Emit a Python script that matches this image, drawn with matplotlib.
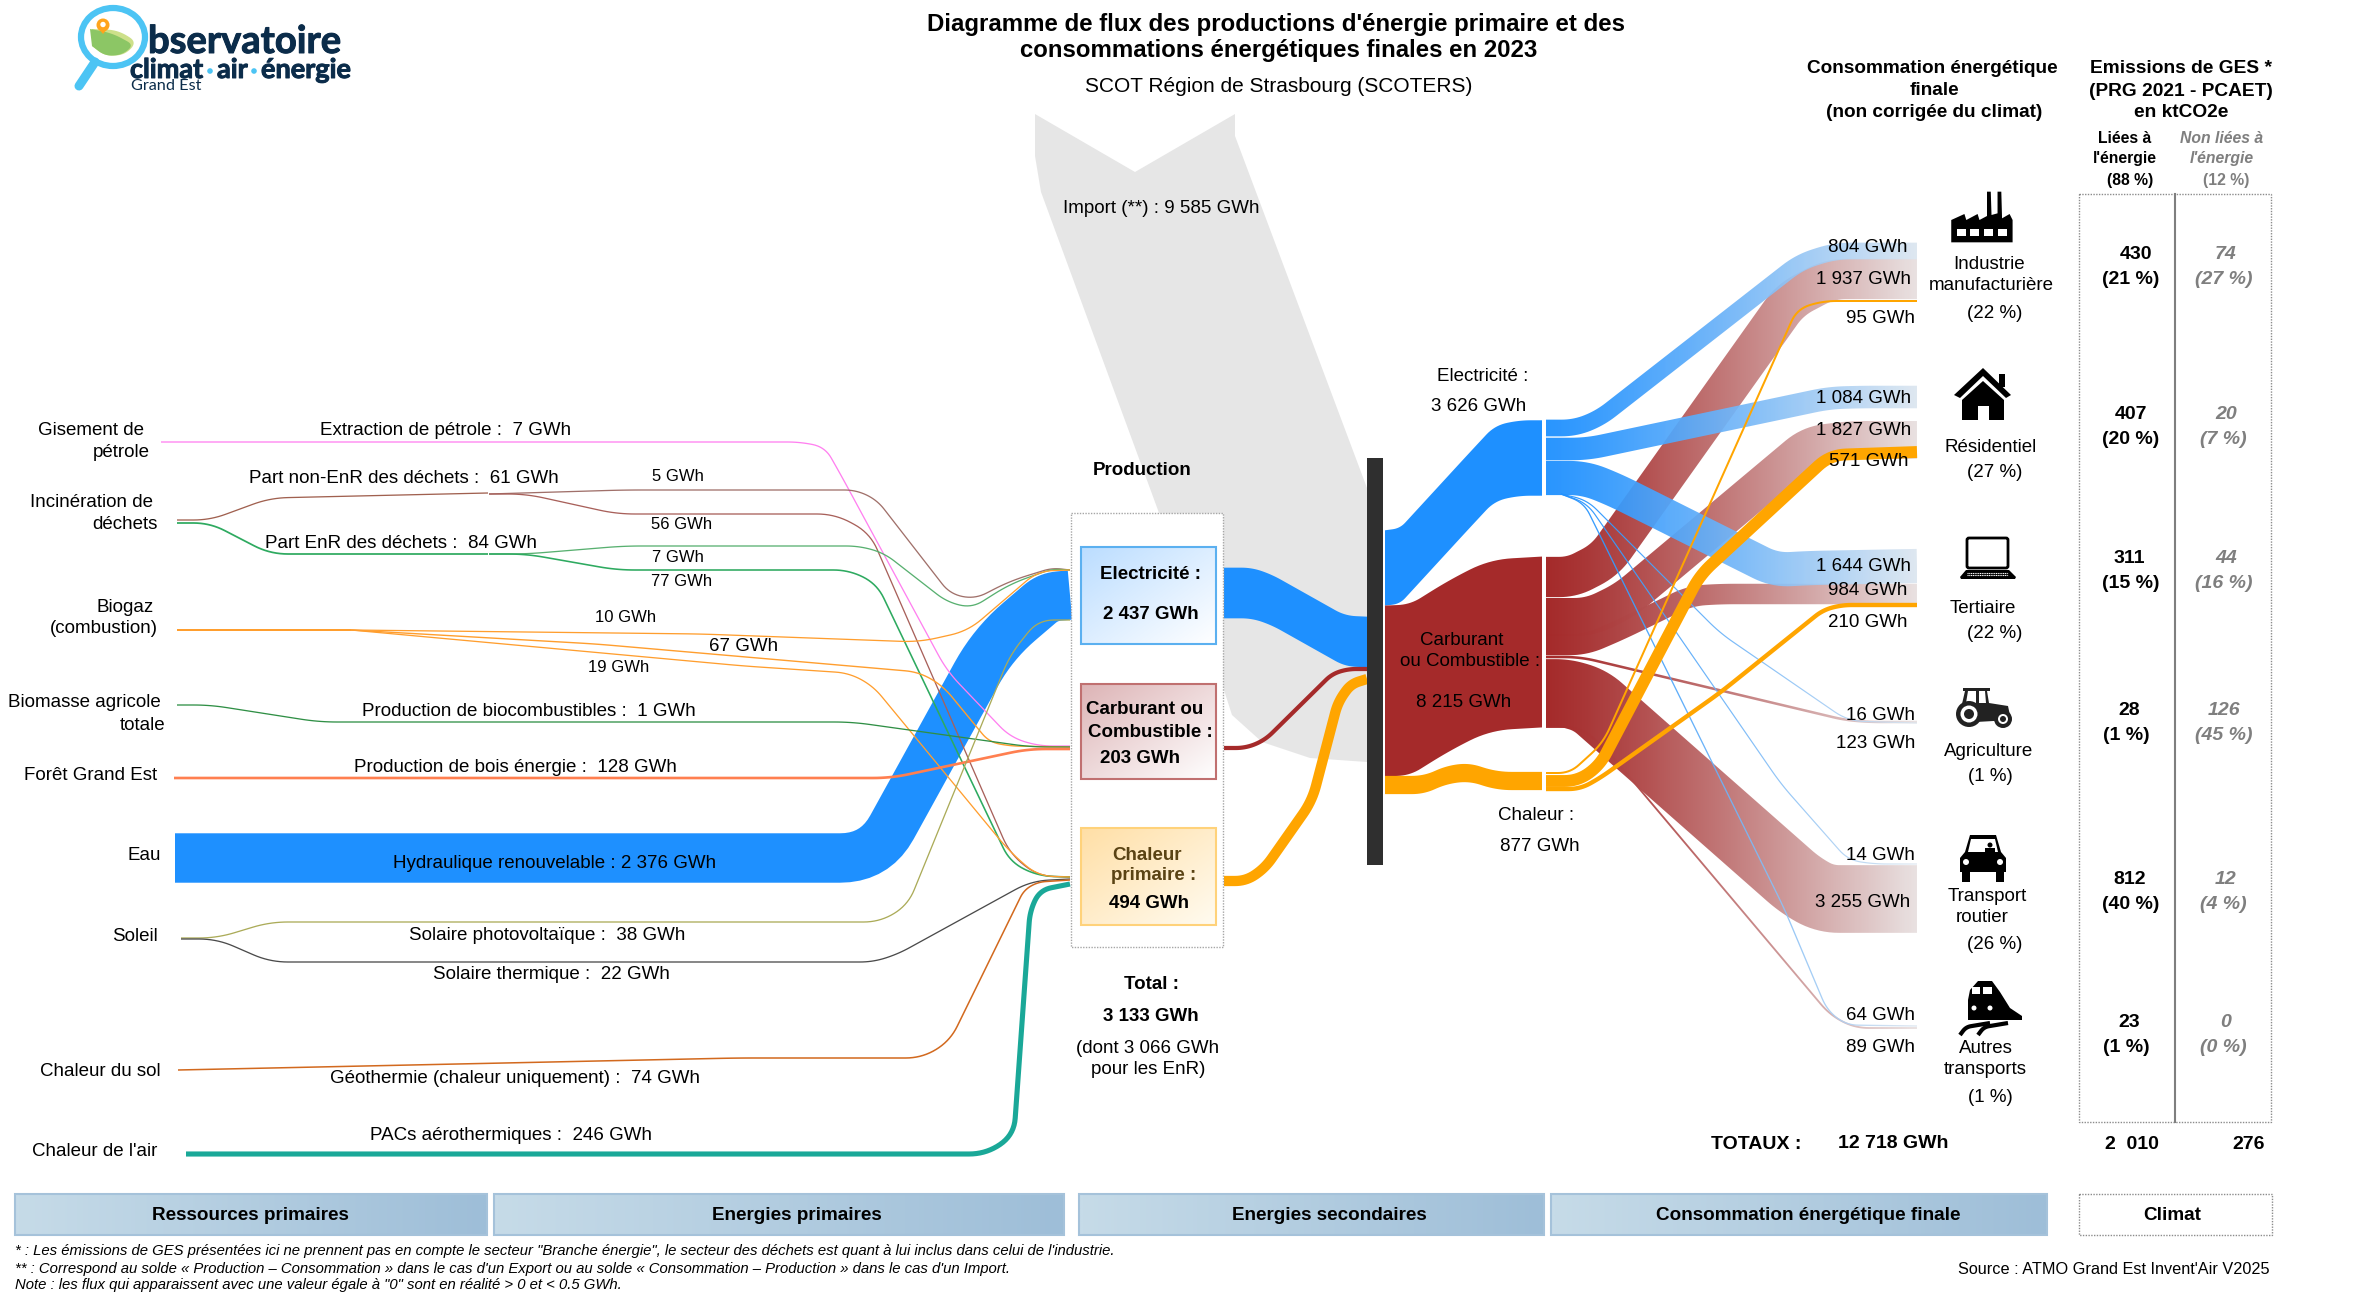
import numpy as np
import matplotlib
matplotlib.use("Agg")
import matplotlib.pyplot as plt
from matplotlib.path import Path
from matplotlib.patches import Polygon, Rectangle, Circle, Ellipse, FancyBboxPatch
from matplotlib.colors import to_rgba
import matplotlib.patheffects as pe

plt.rcParams['font.family'] = ['Liberation Sans', 'DejaVu Sans']

# ---- values (GWh, ktCO2e) ----
petrole = 7
dechets_non_enr = 61
dechets_non_enr_split = [5, 56]
dechets_enr = 84
dechets_enr_split = [7, 77]
biogaz_split = [10, 67, 19]
biocombustibles = 1
bois = 128
hydraulique = 2376
solaire_pv = 38
solaire_th = 22
geothermie = 74
pac = 246
production = [2437, 203, 494]
production_total = 3133
production_enr = 3066
import_solde = 9585
vecteurs = [3626, 8215, 877]
conso_elec = [804, 1084, 1644, 16, 14, 64]
conso_carb = [1937, 1827, 984, 123, 3255, 89]
conso_chal = [95, 571, 210]
conso_total = 12718
conso_pct = [22, 27, 22, 1, 26, 1]
ges_energie = [430, 407, 311, 28, 812, 23]
ges_energie_pct = [21, 20, 15, 1, 40, 1]
ges_autre = [74, 20, 44, 126, 12, 0]
ges_autre_pct = [27, 7, 16, 45, 4, 0]
ges_totaux = [2010, 276]
ges_part = [88, 12]

# ---- layout: pixels of the picture, flow thickness is value * SCALE ----
SCALE = 0.0208
FADE_X = (1546, 1917)
BLUE, RED, ORANGE = "#1E90FF", "#A52A2A", "#FFA500"

fig = plt.figure(figsize=(23.7, 12.99), dpi=100)
ax = fig.add_axes([0, 0, 1, 1])
ax.set_xlim(0, 2370)
ax.set_ylim(1299, 0)
ax.axis("off")


def gwh(v):
    return f"{v:,}".replace(",", " ") + " GWh"


def smooth(route, r=16, n=10):
    route = [np.array(p, float) for p in route]
    out = [route[0]]
    for a, b, c in zip(route, route[1:], route[2:]):
        d1, d2 = np.linalg.norm(b - a), np.linalg.norm(c - b)
        rr = min(r, d1 / 2, d2 / 2)
        p0 = b - (b - a) / d1 * rr
        p2 = b + (c - b) / d2 * rr
        for t in np.linspace(0, 1, n):
            out.append((1 - t) ** 2 * p0 + 2 * t * (1 - t) * b + t ** 2 * p2)
    out.append(route[-1])
    out = np.array(out)
    keep = np.r_[True, np.linalg.norm(np.diff(out, axis=0), axis=1) > 1e-6]
    return out[keep]


def ribbon_xy(route, w, vertical=False, r=16):
    pts = smooth(route, r)
    if vertical:
        off = np.column_stack([np.zeros(len(pts)), np.full(len(pts), w / 2)])
    else:
        tan = np.gradient(pts, axis=0)
        tan = tan / np.linalg.norm(tan, axis=1, keepdims=True)
        off = np.column_stack([-tan[:, 1], tan[:, 0]]) * w / 2
    return np.vstack([pts + off, (pts - off)[::-1]])


def flow(route, value, color, z=3, vertical=False, r=16, minw=1.0):
    xy = ribbon_xy(route, max(value * SCALE, minw), vertical, r)
    ax.add_patch(Polygon(xy, closed=True, fc=color, ec="none", zorder=z))


def faded(route, value, color, end, z=3, r=16, minw=1.2):
    # final flows fade from the vector colour to a pale end colour
    xy = ribbon_xy(route, max(value * SCALE, minw), False, r)
    t = np.linspace(0, 1, 256) ** 1.2
    c0, c1 = np.array(to_rgba(color)), np.array(to_rgba(end))
    grad = (c0[None, :] * (1 - t[:, None]) + c1[None, :] * t[:, None])[None, :, :]
    im = ax.imshow(grad, extent=(FADE_X[0], FADE_X[1], 1299, 0), aspect="auto", zorder=z,
                   interpolation="bilinear")
    im.set_clip_path(Path(np.vstack([xy, xy[0]])), transform=ax.transData)


def line(route, value, color, z=2, r=18):
    pts = smooth(route, r)
    ax.plot(pts[:, 0], pts[:, 1], color=color, lw=max(value * SCALE, 1.3) * 0.72, zorder=z,
            solid_capstyle="butt", solid_joinstyle="round")


def grad_box(x0, y0, x1, y1, c0, c1, edge, z=4, lw=1.5, diag=True):
    u, v = np.meshgrid(np.linspace(0, 1, 64), np.linspace(0, 1, 64))
    t = (u + v) / 2 if diag else u
    a, b = np.array(to_rgba(c0)), np.array(to_rgba(c1))
    img = a[None, None, :] * (1 - t[..., None]) + b[None, None, :] * t[..., None]
    ax.imshow(img, extent=(x0, x1, y1, y0), aspect="auto", zorder=z, interpolation="bilinear")
    ax.add_patch(Rectangle((x0, y0), x1 - x0, y1 - y0, fc="none", ec=edge, lw=lw, zorder=z + 0.1))


def label(x, y, s, size=13.5, color="black", weight="normal", style="normal", ha="center", z=8):
    ax.text(x, y + 1.5, s, fontsize=size, color=color, fontweight=weight, fontstyle=style,
            ha=ha, va="center", zorder=z)


# ---- import wedge ----
ax.add_patch(Polygon([(1035, 114), (1135, 172), (1235, 114), (1235, 136), (1367, 488), (1367, 762),
                      (1310, 758), (1262, 742), (1232, 715), (1223, 687), (1041, 192), (1035, 156)],
                     closed=True, fc="#E6E6E6", ec="none", zorder=1))

# ---- left side: resources to primary energies ----
line([(161, 442), (800, 442), (825, 447), (842, 477), (947, 671), (1010, 737), (1038, 746), (1070, 746)], petrole, "#FF80F0")
line([(177, 520), (210, 520), (270, 498), (488, 493)], dechets_non_enr, "#A0604F")
line([(489, 494), (624, 490), (856, 490), (877, 500), (950, 594), (975, 599), (1010, 581), (1052, 568), (1070, 570)],
     dechets_non_enr_split[0], "#A0706A")
line([(489, 494), (526, 494), (617, 514), (835, 514), (870, 533), (1010, 854), (1038, 876), (1070, 877)],
     dechets_non_enr_split[1], "#A8605A")
line([(177, 523), (210, 523), (270, 554), (488, 554)], dechets_enr, "#2EAA60")
line([(489, 554), (526, 554), (624, 546), (859, 546), (884, 553), (947, 602), (972, 608), (1010, 584), (1052, 569), (1070, 570)],
     dechets_enr_split[0], "#58B070")
line([(489, 554), (526, 554), (617, 570), (849, 570), (877, 584), (1010, 862), (1038, 876), (1070, 877)],
     dechets_enr_split[1], "#2EAA60")
line([(177, 630), (351, 630)], sum(biogaz_split), "#FF9E2E")
line([(351, 630), (701, 634), (919, 642), (968, 631), (1038, 571), (1070, 570)], biogaz_split[0], "#FF9E2E")
line([(351, 630), (596, 644), (919, 672), (943, 686), (989, 742), (1010, 746), (1070, 747)], biogaz_split[1], "#FF9E2E")
line([(351, 630), (744, 666), (849, 673), (873, 686), (1010, 852), (1038, 876), (1070, 877)], biogaz_split[2], "#FF9E2E")
line([(177, 705), (210, 705), (319, 722), (852, 722), (1031, 747), (1070, 747)], biocombustibles, "#2F8F45")
line([(174, 778), (891, 778), (1028, 749), (1070, 749)], bois, "#FF7F50")
line([(181, 938), (217, 938), (270, 922), (880, 922), (908, 905), (1010, 655), (1038, 620), (1070, 620)], solaire_pv, "#ABAB58")
line([(181, 939), (217, 939), (270, 962), (873, 962), (898, 954), (1031, 881), (1070, 879)], solaire_th, "#4A4A4A")
line([(178, 1070), (737, 1058), (922, 1058), (950, 1041), (1024, 890), (1038, 882), (1070, 880)], geothermie, "#D2691E")
flow([(175, 858), (875, 858), (993, 644), (1048, 597), (1070, 595)], hydraulique, BLUE, z=1.5, r=35)
flow([(186, 1154), (986, 1154), (1014, 1135), (1030, 911), (1040, 890), (1070, 884)], pac, "#1AA898", z=2.5, r=20)

# ---- production column ----
ax.add_patch(Rectangle((1071, 513), 152, 434, fc="white", ec="#A6A6A6", lw=1, ls=(0, (1, 1)), zorder=3.5))
grad_box(1081, 547, 1216, 644, "#BBDDFF", "#FFFFFF", "#5BB0F0")
grad_box(1081, 684, 1216, 779, "#DDB4B6", "#FFFFFF", "#C07070")
grad_box(1081, 828, 1216, 925, "#FFDFA6", "#FFFBF0", "#FFD27A")

flow([(1224, 593), (1252, 593), (1272, 600), (1345, 641), (1367, 642)], production[0], BLUE, vertical=True, r=20)
flow([(1224, 748), (1246, 748), (1265, 740), (1332, 674), (1348, 669), (1367, 669)], production[1], RED)
flow([(1224, 881), (1246, 881), (1265, 868), (1312, 801), (1338, 702), (1351, 684), (1367, 679)], production[2], ORANGE)

# ---- central vectors ----
flow([(1385, 568), (1400, 566), (1468, 492), (1495, 463), (1520, 458), (1542, 458)], vecteurs[0], BLUE, vertical=True)
flow([(1385, 691), (1410, 690), (1450, 665), (1490, 645), (1542, 642)], vecteurs[1], RED, vertical=True, r=25)
flow([(1385, 785), (1424, 785), (1446, 775), (1469, 772), (1497, 781), (1542, 781)], vecteurs[2], ORANGE, vertical=True)
ax.add_patch(Rectangle((1367, 458), 16, 407, fc="#2F2F2F", ec="none", zorder=4))

# ---- final flows, red first, blue above, orange on top ----
RED_END = (0.91, 0.88, 0.88, 0.95)
BLUE_END = (0.86, 0.90, 0.94, 0.90)
BLUE_A = (0.118, 0.565, 1.0, 0.95)
faded([(1546, 577), (1572, 577), (1605, 560), (1790, 300), (1830, 279), (1917, 279)], conso_carb[0], RED, RED_END, z=2.0)
faded([(1546, 617), (1590, 617), (1625, 600), (1810, 445), (1850, 440), (1917, 440)], conso_carb[1], RED, RED_END, z=2.0)
faded([(1546, 645), (1585, 645), (1620, 630), (1690, 596), (1720, 594), (1917, 594)], conso_carb[2], RED, RED_END, z=2.0)
faded([(1546, 657), (1580, 657), (1845, 720), (1870, 722), (1917, 722)], conso_carb[3], RED, RED_END, z=2.0)
faded([(1546, 693), (1565, 693), (1590, 700), (1800, 885), (1825, 899), (1917, 899)], conso_carb[4], RED, RED_END, z=2.0, r=30)
faded([(1546, 727), (1580, 727), (1605, 748), (1830, 1015), (1855, 1028), (1917, 1028)], conso_carb[5], RED, RED_END, z=2.0)
faded([(1546, 428), (1575, 428), (1600, 418), (1800, 262), (1835, 251), (1917, 251)], conso_elec[0], BLUE_A, BLUE_END, z=2.2)
faded([(1546, 449), (1587, 449), (1829, 398), (1860, 397), (1917, 397)], conso_elec[1], BLUE_A, BLUE_END, z=2.2)
faded([(1546, 478), (1585, 478), (1615, 490), (1775, 570), (1810, 568), (1917, 566)], conso_elec[2], BLUE_A, BLUE_END, z=2.2)
faded([(1561, 494), (1587, 500), (1720, 633), (1848, 721), (1917, 723)], conso_elec[3], BLUE_A, BLUE_END, z=2.2)
faded([(1561, 494), (1587, 503), (1781, 784), (1848, 860), (1874, 864), (1917, 864)], conso_elec[4], BLUE_A, BLUE_END, z=2.2)
faded([(1561, 494), (1584, 503), (1784, 908), (1827, 1010), (1846, 1025), (1917, 1026)], conso_elec[5], BLUE_A, BLUE_END, z=2.2)
flow([(1546, 773), (1570, 773), (1603, 743), (1797, 309), (1823, 301), (1917, 301)], conso_chal[0], ORANGE, z=2.4, minw=2)
flow([(1546, 781), (1578, 781), (1600, 765), (1700, 575), (1830, 455), (1917, 452)], conso_chal[1], ORANGE, z=2.4)
flow([(1546, 789), (1580, 789), (1600, 778), (1721, 692), (1823, 610), (1842, 605), (1917, 605)], conso_chal[2], ORANGE, z=2.4)

# ---- climate table ----
ax.add_patch(Rectangle((2079, 194), 192, 928, fc="none", ec="#8C8C8C", lw=1, ls=(0, (1, 1)), zorder=3))
ax.plot([2175, 2175], [194, 1122], color="#7F7F7F", lw=1.5, zorder=3)

# ---- bottom bands ----
for x0, x1, xt, txt in [(15, 487, 250, "Ressources primaires"), (494, 1064, 797, "Energies primaires"),
                        (1079, 1544, 1329, "Energies secondaires"), (1551, 2047, 1808, "Consommation énergétique finale")]:
    grad_box(x0, 1194, x1, 1235, "#C6DBE8", "#9EBED8", "#A5C2DA", diag=False)
    label(xt, 1214, txt, size=13.6, weight="bold")
ax.add_patch(Rectangle((2079, 1194), 193, 41, fc="none", ec="#8C8C8C", lw=1, ls=(0, (1, 1)), zorder=3))
label(2172, 1214, "Climat", size=13.6, weight="bold")

# ---- titles ----
label(1276, 23, "Diagramme de flux des productions d'énergie primaire et des", size=17.3, weight="bold")
label(1279, 49, "consommations énergétiques finales en 2023", size=17.3, weight="bold")
label(1279, 85, "SCOT Région de Strasbourg (SCOTERS)", size=15)
label(1932, 67, "Consommation énergétique", weight="bold", size=13.7)
label(1934, 89, "finale", weight="bold", size=13.7)
label(1934, 111, "(non corrigée du climat)", weight="bold", size=13.7)
label(2181, 67, "Emissions de GES *", weight="bold", size=13.8)
label(2181, 90, "(PRG 2021 - PCAET)", weight="bold", size=13.8)
label(2181, 111, "en ktCO2e", weight="bold", size=13.8)
label(2125, 137, "Liées à", weight="bold", size=11.3)
label(2125, 157, "l'énergie", weight="bold", size=11.3)
label(2130, 179, f"({ges_part[0]} %)", weight="bold", size=11.3)
label(2222, 137, "Non liées à", weight="bold", style="italic", size=11.3, color="#7F7F7F")
label(2222, 157, "l'énergie", weight="bold", style="italic", size=11.3, color="#7F7F7F")
label(2226, 179, f"({ges_part[1]} %)", weight="bold", size=11.3, color="#7F7F7F")

# ---- left labels ----
for x, y, s in [(91, 429, "Gisement de"), (121, 451, "pétrole"), (91, 501, "Incinération de"), (125, 523, "déchets"),
                (125, 606, "Biogaz"), (104, 627, "(combustion)"), (84, 701, "Biomasse agricole"), (143, 724, "totale"),
                (91, 774, "Forêt Grand Est"), (144, 854, "Eau"), (135, 935, "Soleil"), (100, 1070, "Chaleur du sol"),
                (95, 1150, "Chaleur de l'air")]:
    label(x, y, s)

label(446, 429, f"Extraction de pétrole :  {petrole} GWh")
label(404, 477, f"Part non-EnR des déchets :  {dechets_non_enr} GWh")
label(678, 475, gwh(dechets_non_enr_split[0]), size=12)
label(682, 523, gwh(dechets_non_enr_split[1]), size=12)
label(401, 542, f"Part EnR des déchets :  {dechets_enr} GWh")
label(678, 556, gwh(dechets_enr_split[0]), size=12)
label(682, 580, gwh(dechets_enr_split[1]), size=12)
label(626, 616, gwh(biogaz_split[0]), size=12)
label(744, 645, gwh(biogaz_split[1]), size=13.5)
label(619, 666, gwh(biogaz_split[2]), size=12)
label(529, 710, f"Production de biocombustibles :  {biocombustibles} GWh")
label(515, 766, f"Production de bois énergie :  {bois} GWh")
label(555, 862, f"Hydraulique renouvelable : {gwh(hydraulique)}")
label(547, 934, f"Solaire photovoltaïque :  {solaire_pv} GWh")
label(551, 973, f"Solaire thermique :  {solaire_th} GWh")
label(515, 1077, f"Géothermie (chaleur uniquement) :  {geothermie} GWh")
label(511, 1134, f"PACs aérothermiques :  {pac} GWh")

# ---- production labels ----
label(1142, 469, "Production", weight="bold")
label(1151, 573, "Electricité :", weight="bold")
label(1151, 613, gwh(production[0]), weight="bold")
label(1145, 708, "Carburant ou", weight="bold")
label(1150, 731, "Combustible :", weight="bold")
label(1140, 757, gwh(production[1]), weight="bold")
label(1147, 854, "Chaleur", weight="bold", color="#5A4314")
label(1154, 874, "primaire :", weight="bold", color="#5A4314")
label(1149, 902, gwh(production[2]), weight="bold")
label(1151, 983, "Total :", weight="bold")
label(1151, 1015, gwh(production_total), weight="bold")
label(1148, 1047, f"(dont {gwh(production_enr)}")
label(1148, 1068, "pour les EnR)")
label(1161, 207, f"Import (**) : {gwh(import_solde)}")

# ---- vector labels ----
label(1483, 375, "Electricité :")
label(1479, 405, gwh(vecteurs[0]))
label(1462, 639, "Carburant")
label(1470, 660, "ou Combustible :")
label(1464, 701, gwh(vecteurs[1]))
label(1536, 814, "Chaleur :")
label(1540, 845, gwh(vecteurs[2]))

# ---- final flow labels ----
elec_xy = [(1868, 246), (1864, 397), (1863, 565), (1880, 714), (1880, 854), (1880, 1014)]
carb_xy = [(1864, 278), (1864, 429), (1868, 589), (1876, 742), (1863, 901), (1880, 1046)]
chal_xy = [(1880, 317), (1869, 460), (1868, 621)]
for (x, y), v in zip(elec_xy, conso_elec):
    label(x, y, gwh(v))
for (x, y), v in zip(carb_xy, conso_carb):
    label(x, y, gwh(v))
for (x, y), v in zip(chal_xy, conso_chal):
    label(x, y, gwh(v))

# ---- sector labels ----
sector_lines = [[(1989, 263, "Industrie"), (1991, 284, "manufacturière")], [(1991, 446, "Résidentiel")],
                [(1983, 607, "Tertiaire")], [(1989, 750, "Agriculture")],
                [(1987, 895, "Transport"), (1982, 916, "routier")], [(1986, 1047, "Autres"), (1985, 1068, "transports")]]
pct_xy = [(1995, 312), (1995, 471), (1995, 632), (1990, 775), (1995, 943), (1990, 1096)]
for rows, (x, y), p in zip(sector_lines, pct_xy, conso_pct):
    for rx, ry, s in rows:
        label(rx, ry, s)
    label(x, y, f"({p} %)")

# ---- emissions ----
ges_y = [(253, 278), (413, 438), (557, 582), (709, 734), (878, 903), (1021, 1046)]
ges_left_x = [(2136, 2131), (2131, 2131), (2129, 2131), (2129, 2126), (2130, 2131), (2129, 2126)]
ges_right_x = [(2226, 2224), (2226, 2223), (2226, 2224), (2224, 2224), (2226, 2223), (2226, 2223)]
for i in range(6):
    y0, y1 = ges_y[i]
    label(ges_left_x[i][0], y0, str(ges_energie[i]), weight="bold", size=14)
    label(ges_left_x[i][1], y1, f"({ges_energie_pct[i]} %)", weight="bold", size=14)
    label(ges_right_x[i][0], y0, str(ges_autre[i]), weight="bold", style="italic", size=14, color="#7F7F7F")
    label(ges_right_x[i][1], y1, f"({ges_autre_pct[i]} %)", weight="bold", style="italic", size=14, color="#7F7F7F")
label(1756, 1143, "TOTAUX :", weight="bold", size=14)
label(1893, 1142, gwh(conso_total), weight="bold", size=14)
label(2132, 1143, f"{ges_totaux[0]:,}".replace(",", "  "), weight="bold", size=14)
label(2249, 1143, str(ges_totaux[1]), weight="bold", size=14)

# ---- notes ----
notes = ['* : Les émissions de GES présentées ici ne prennent pas en compte le secteur "Branche énergie", le secteur des déchets est quant à lui inclus dans celui de l\'industrie.',
         "** : Correspond au solde « Production – Consommation » dans le cas d'un Export ou au solde « Consommation – Production » dans le cas d'un Import.",
         'Note : les flux qui apparaissent avec une valeur égale à "0" sont en réalité > 0 et < 0.5 GWh.']
for y, s in zip([1250, 1267, 1284], notes):
    label(15, y, s, size=10.75, style="italic", ha="left")
label(1958, 1268, "Source : ATMO Grand Est Invent'Air V2025", size=11.7, ha="left")


# ---- icons ----
def factory():
    zx = [455, 490, 495, 525, 530, 550, 550, 560, 562, 578, 578, 588, 590, 610, 618, 618, 455]
    zy = [540, 522, 540, 522, 540, 528, 455, 455, 525, 520, 455, 455, 535, 522, 540, 607, 607]
    pts = [(1780 + a / 2.657, 40 + b / 3) for a, b in zip(zx, zy)]
    ax.add_patch(Polygon(pts, closed=True, fc="black", ec="none", zorder=6))
    for x in (1957, 1970, 1984, 1998):
        ax.add_patch(Rectangle((x, 229), 9, 7, fc="white", ec="none", zorder=6.1))


def house():
    ax.add_patch(Polygon([(1983, 368), (2011, 395), (2006, 398), (1983, 376), (1960, 398), (1954, 395)], closed=True, fc="black", zorder=6))
    ax.add_patch(Polygon([(1983, 381), (2004, 400), (2004, 420), (1962, 420), (1962, 400)], closed=True, fc="black", zorder=6))
    ax.add_patch(Rectangle((1999, 374), 6, 13, fc="black", zorder=6))
    ax.add_patch(Rectangle((1978, 406), 11, 14, fc="white", zorder=6.1))


def laptop():
    ax.add_patch(FancyBboxPatch((1967, 538), 41, 30, boxstyle="round,pad=0,rounding_size=2", fc="white", ec="black", lw=2, zorder=6))
    ax.add_patch(Polygon([(1966, 570), (2009, 570), (2016, 577), (2015, 579), (1961, 579), (1960, 577)], closed=True, fc="black", zorder=6))
    for y in (572.5, 575):
        ax.plot([1967, 2008], [y, y], color="white", lw=0.8, ls=(0, (1, 0.6)), zorder=6.1)


def tractor():
    ax.add_patch(Polygon([(1963, 688), (1990, 688), (1990, 691), (1987, 691), (1989, 703), (2008, 706), (2011, 720), (1976, 722), (1962, 704), (1965, 691), (1963, 691)],
                         closed=True, fc="#222222", zorder=6))
    ax.add_patch(Polygon([(1968, 691), (1976, 691), (1976, 703), (1966, 703)], closed=True, fc="white", zorder=6.1))
    ax.add_patch(Polygon([(1979, 691), (1985, 691), (1986, 703), (1979, 703)], closed=True, fc="white", zorder=6.1))
    for x, y, r0, r1, r2 in [(1969, 714, 13, 8.5, 5), (2003, 719, 9, 5, 3)]:
        ax.add_patch(Circle((x, y), r0, fc="#222222", zorder=6.2))
        ax.add_patch(Circle((x, y), r1, fc="white", zorder=6.3))
        ax.add_patch(Circle((x, y), r2, fc="#222222", zorder=6.4))


def car():
    ax.add_patch(Polygon([(1970, 835), (1996, 835), (2001, 852), (2006, 858), (2006, 872), (1960, 872), (1960, 858), (1965, 852)], closed=True, fc="black", zorder=6))
    ax.add_patch(Polygon([(1971, 839), (1995, 839), (1998, 852), (1968, 852)], closed=True, fc="white", zorder=6.1))
    ax.add_patch(Circle((1990, 845), 2.5, fc="black", zorder=6.2))
    ax.add_patch(Rectangle((1985, 848), 10, 4, fc="black", zorder=6.2))
    ax.add_patch(Rectangle((1962, 870), 8, 12, fc="black", zorder=6))
    ax.add_patch(Rectangle((1996, 870), 8, 12, fc="black", zorder=6))
    for x in (1966, 2000):
        ax.add_patch(Circle((x, 862), 3, fc="white", zorder=6.1))


def train():
    ax.add_patch(Polygon([(1970, 990), (1978, 981), (1992, 981), (2000, 992), (2010, 1008), (2022, 1016), (2022, 1020), (1968, 1020), (1968, 1000)], closed=True, fc="black", zorder=6))
    ax.add_patch(Rectangle((1972, 987), 8, 7, fc="white", zorder=6.1))
    ax.add_patch(Rectangle((1983, 987), 9, 7, fc="white", zorder=6.1))
    for x in (1974, 1990):
        ax.add_patch(Circle((x, 1008), 2.5, fc="white", zorder=6.1))
    for x0, x1 in [(1960, 1990), (1978, 2008)]:
        s = smooth([(x0, 1035), (x0 + 6, 1027), (x1, 1023)], r=10)
        ax.plot(s[:, 0], s[:, 1], color="black", lw=3, zorder=6, solid_capstyle="butt")


factory(); house(); laptop(); tractor(); car(); train()

# ---- logo ----
ax.add_patch(Ellipse((113, 37), 64, 58, fc="white", ec="#4CC4F4", lw=4.5, zorder=7))
ax.plot([95, 79], [62, 86], color="#4CC4F4", lw=6.5, solid_capstyle="round", zorder=7)
ax.add_patch(Polygon(smooth([(92, 29), (118, 30), (137, 42), (125, 55), (105, 56), (92, 46)], r=12), closed=True, fc="#CDE08A", ec="none", zorder=7.05))
ax.add_patch(Polygon(smooth([(90, 29), (112, 33), (134, 45), (122, 55), (105, 56), (92, 46)], r=12), closed=True, fc="#8CC665", ec="none", zorder=7.1))
ax.add_patch(Circle((103, 25), 6.5, fc="#FFA41C", zorder=7.2))
ax.add_patch(Polygon([(98, 28), (108, 28), (103, 34)], closed=True, fc="#FFA41C", zorder=7.2))
ax.add_patch(Circle((103, 24.5), 2.7, fc="white", zorder=7.3))
NAVY = "#0B2C4A"
heavy = [pe.withStroke(linewidth=0.7, foreground=NAVY)]
for x, y, s, size in [(148, 42, "bservatoire", 27.5), (130, 70, "climat", 19.5), (217, 70, "air", 19.5), (261, 70, "énergie", 19.5)]:
    ax.text(x, y, s, fontsize=size, fontweight="bold", family="Lato", color=NAVY, va="center", zorder=8, path_effects=heavy)
for x in (210, 254):
    ax.add_patch(Circle((x, 71), 2.8, fc="#4CC4F4", zorder=8))
ax.text(131, 86, "Grand Est", fontsize=11.7, family="Lato", color=NAVY, va="center", zorder=8)

ax.set_xlim(0, 2370)
ax.set_ylim(1299, 0)
fig.savefig("out.png", dpi=100, facecolor="white")
